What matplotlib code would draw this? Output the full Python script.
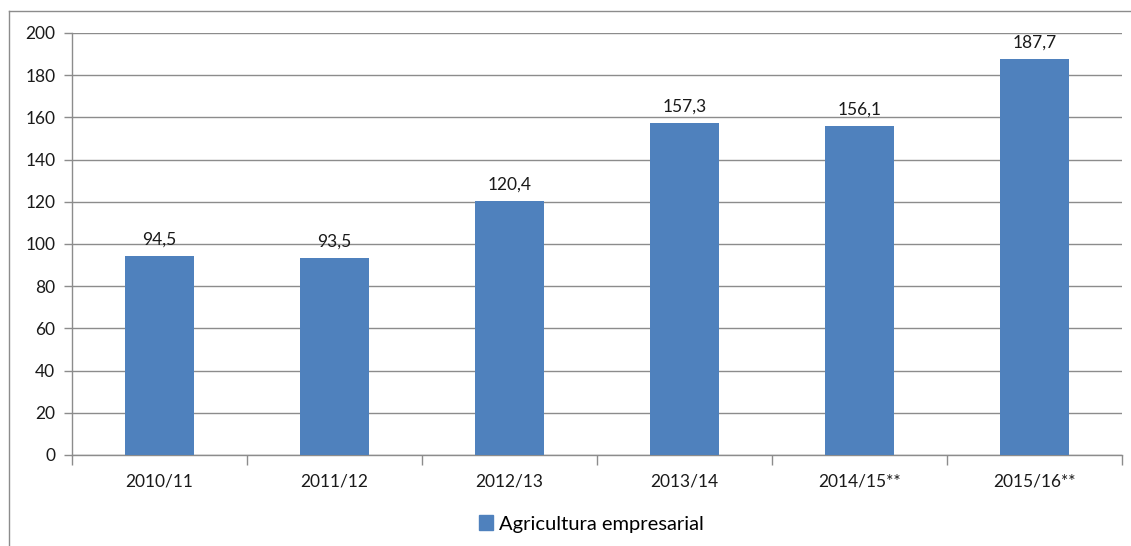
import matplotlib
matplotlib.use("Agg")
import matplotlib.pyplot as plt
from matplotlib.lines import Line2D
from matplotlib.patches import Patch

plt.rcParams['font.family'] = ['Lato', 'DejaVu Sans']

seasons = ['2010/11', '2011/12', '2012/13', '2013/14', '2014/15**', '2015/16**']
values = [94.5, 93.5, 120.4, 157.3, 156.1, 187.7]
series_name = 'Agricultura empresarial'

bar_color = '#4F81BD'
grid_color = '#8C8C8C'
text_color = '#1a1a1a'

fig = plt.figure(figsize=(11.31, 5.46), dpi=100)
ax = fig.add_axes([0.0637, 0.1667, 0.9283, 0.7729])

x = range(len(seasons))
bars = ax.bar(x, values, width=0.39, color=bar_color, zorder=3)

for b, v in zip(bars, values):
    ax.annotate(f'{v:.1f}'.replace('.', ','),
                (b.get_x() + b.get_width() / 2, v),
                xytext=(0, 6), textcoords='offset points',
                ha='center', va='bottom', fontsize=12.5, color=text_color)

ax.set_xlim(-0.5, len(seasons) - 0.5)
ax.set_ylim(0, 200)
ax.set_yticks(range(0, 201, 20))
ax.yaxis.grid(True, color=grid_color, linewidth=1.0, zorder=0)

# category labels centred, tick marks on the boundaries
ax.set_xticks(list(x))
ax.set_xticklabels(seasons, fontsize=12.5, color=text_color)
ax.tick_params(axis='x', length=0, pad=13)
ax.set_xticks([i - 0.5 for i in range(len(seasons) + 1)], minor=True)
ax.tick_params(axis='x', which='minor', length=7, width=1.0, color=grid_color)
ax.tick_params(axis='y', length=6, width=1.0, color=grid_color,
               labelsize=12.5, labelcolor=text_color, pad=6)

for side in ['top', 'right']:
    ax.spines[side].set_visible(False)
for side in ['left', 'bottom']:
    ax.spines[side].set_color(grid_color)
    ax.spines[side].set_linewidth(1.0)

# outer chart frame
fig.add_artist(Line2D([9 / 1131, 9 / 1131], [0, 1 - 11 / 546],
                      transform=fig.transFigure, color=grid_color, linewidth=1.0))
fig.add_artist(Line2D([9 / 1131, 1], [1 - 11 / 546, 1 - 11 / 546],
                      transform=fig.transFigure, color=grid_color, linewidth=1.0))

fig.legend(handles=[Patch(color=bar_color, label=series_name)],
           loc='center', bbox_to_anchor=(0.523, 1 - 524 / 546),
           frameon=False, fontsize=14.5, handlelength=0.7, handleheight=0.7,
           handletextpad=0.3)

fig.savefig('out.png', dpi=100)
